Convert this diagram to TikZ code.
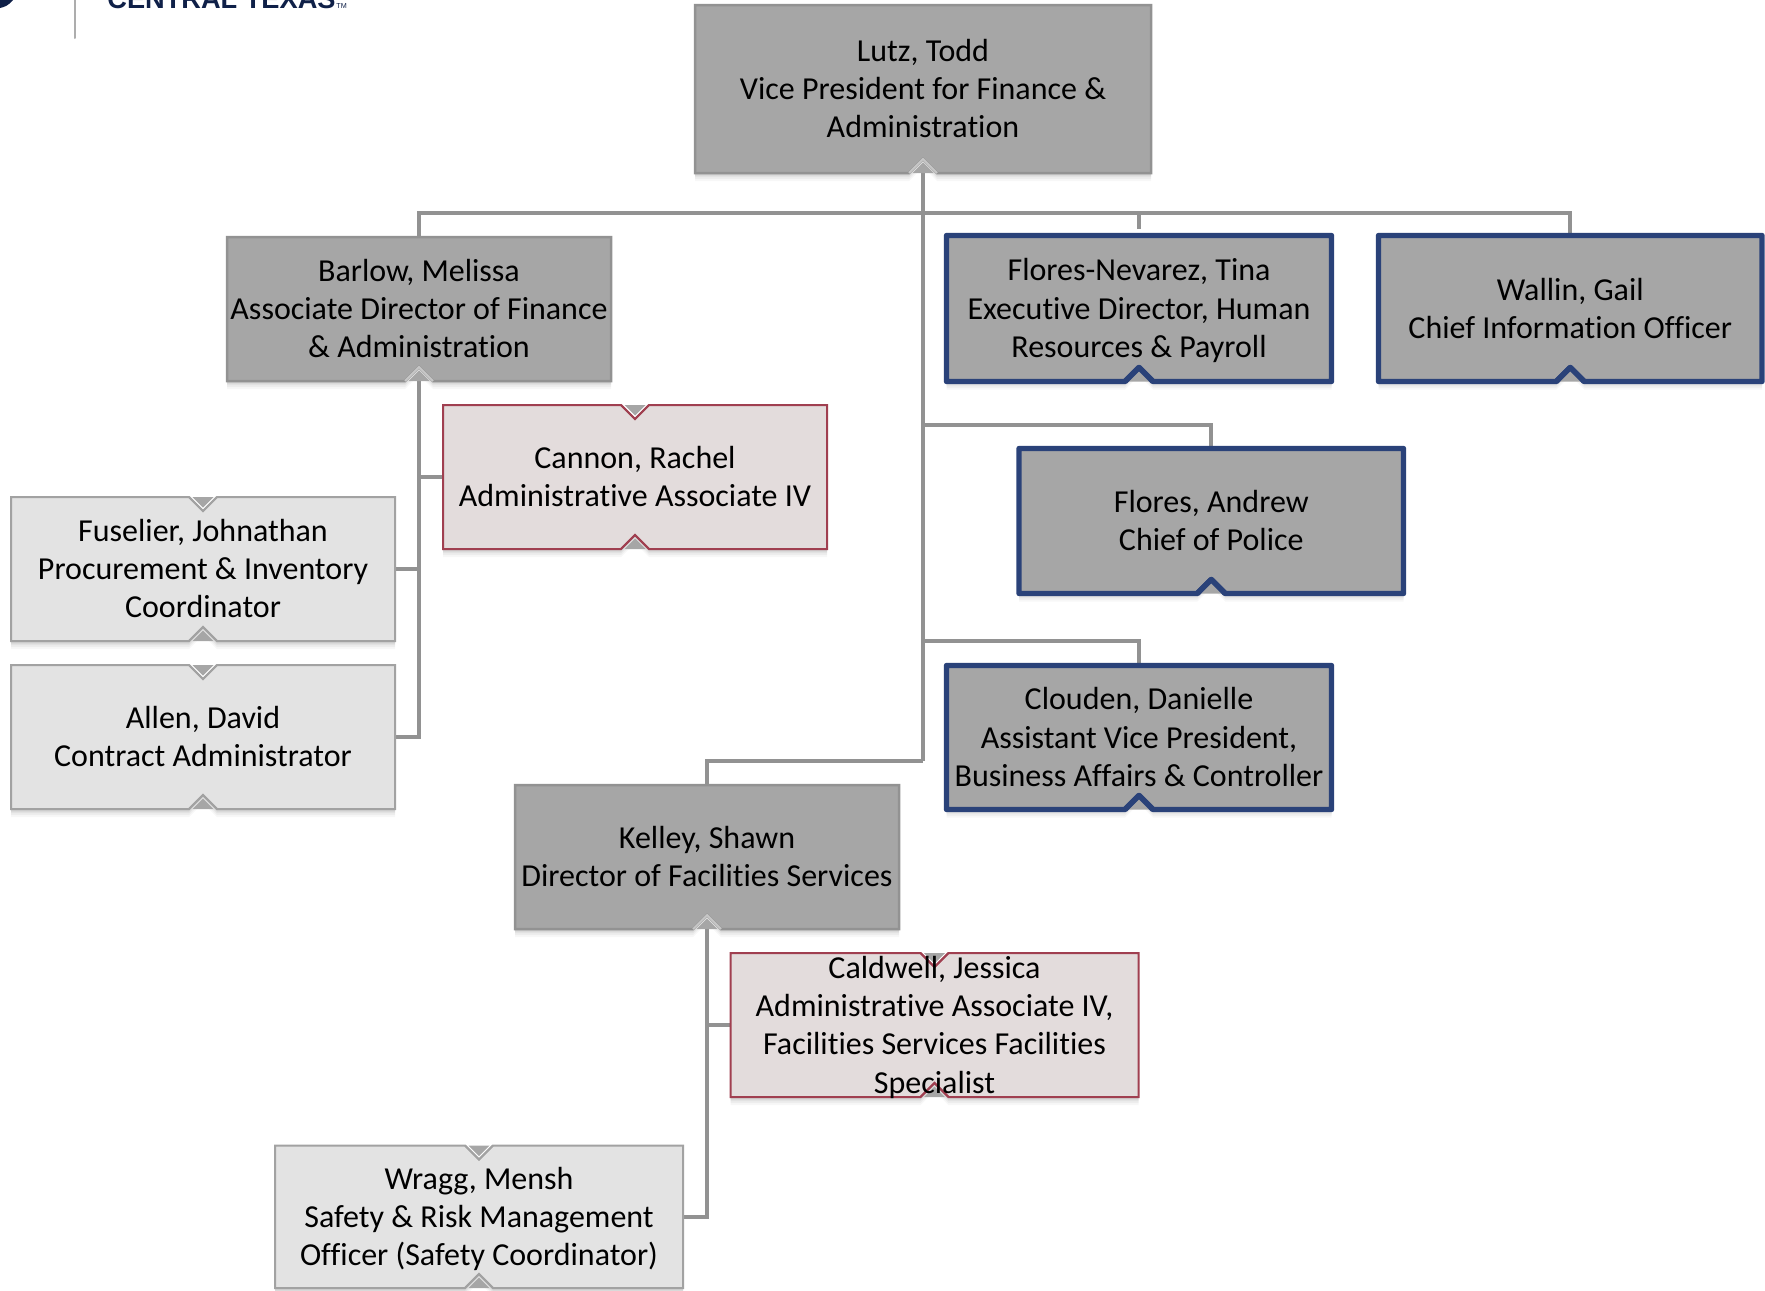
\documentclass[tikz,border=0pt]{standalone}
\usepackage{fontspec}
\setmainfont[Ligatures=NoCommon]{Carlito}
\newfontfamily\logofont{Liberation Sans}
\usetikzlibrary{shadows}
\pgfdeclarelayer{connectors}
\pgfsetlayers{connectors,main}
\definecolor{fillgrey}{HTML}{A6A6A6}
\definecolor{edgegrey}{HTML}{929292}
\definecolor{conngrey}{HTML}{929292}
\definecolor{litefill}{HTML}{E3E3E3}
\definecolor{liteedge}{HTML}{A2A2A2}
\definecolor{redfill}{HTML}{E3DCDC}
\definecolor{rededge}{HTML}{A03F50}
\definecolor{blueedge}{HTML}{2A4279}
\definecolor{navy}{HTML}{0F2048}
\tikzset{
  softshadow/.style={
    general shadow={shadow yshift=-.6pt,fill=black,fill opacity=.06},
    general shadow={shadow yshift=-1.3pt,fill=black,fill opacity=.06},
    general shadow={shadow yshift=-2.1pt,fill=black,fill opacity=.05},
    general shadow={shadow yshift=-3pt,fill=black,fill opacity=.04},
    general shadow={shadow yshift=-4pt,fill=black,fill opacity=.03}},
  darkbox/.style={softshadow,fill=fillgrey,draw=edgegrey,line width=1.25pt},
  darkchev/.style={draw=black!22,line width=.9pt},
  bluebox/.style={softshadow,fill=fillgrey,draw=blueedge,line width=2.7pt,line join=round},
  bluechev/.style={draw=blueedge,line width=2.7pt,line join=round},
  litebox/.style={softshadow,fill=litefill,draw=liteedge,line width=1pt},
  litechev/.style={draw=liteedge,line width=1pt},
  redbox/.style={softshadow,fill=redfill,draw=rededge,line width=1pt},
  redchev/.style={draw=rededge,line width=1pt},
  orgtext/.style={align=center,inner sep=0pt,outer sep=0pt,text=black,
    font=\fontsize{16}{19.15}\selectfont},
  conn/.style={draw=conngrey,line width=2pt}
}
\newcommand\notched[7]{\orgboxx{1}{#1}{#2}{#3}{#4}{#5}{#6}{#7}}
\newcommand\plain[7]{\orgboxx{0}{#1}{#2}{#3}{#4}{#5}{#6}{#7}}
% {top notch 0/1}{name}{x0}{y0}{x1}{y1}{kind}{text}
\newcommand\orgboxx[8]{%
  \pgfmathsetmacro\cxx{(#3+#5)/2}%
  \ifnum#1=1
    \path[#7box] (#3,#4) -- (\cxx-14,#4) -- (\cxx,#4+14) -- (\cxx+14,#4) -- (#5,#4) -- (#5,#6)
      -- (\cxx+14,#6) -- (\cxx,#6-14) -- (\cxx-14,#6) -- (#3,#6) -- cycle;
    \fill[fillgrey] (\cxx-10.5,#4) -- (\cxx,#4+10.5) -- (\cxx+10.5,#4) -- cycle;
    \draw[#7chev] (\cxx-14,#4) -- (\cxx,#4+14) -- (\cxx+14,#4);
  \else
    \path[#7box] (#3,#4) -- (#5,#4) -- (#5,#6)
      -- (\cxx+14,#6) -- (\cxx,#6-14) -- (\cxx-14,#6) -- (#3,#6) -- cycle;
  \fi
  \fill[fillgrey] (\cxx-10.5,#6) -- (\cxx,#6-10.5) -- (\cxx+10.5,#6) -- cycle;
  \draw[#7chev] (\cxx-14,#6) -- (\cxx,#6-14) -- (\cxx+14,#6);
  \node[orgtext,minimum width={(#5-#3)*0.5pt},minimum height={(#6-#4)*0.5pt}] (#2) at (\cxx,{(#4+#6)/2}) {\rule{0pt}{14.9pt}#8\rule[-4.24pt]{0pt}{4.24pt}};
}
\begin{document}
\begin{tikzpicture}[x=0.5pt,y=-0.5pt]
\useasboundingbox (0,0) rectangle (1765,1290);
% logo fragment
\fill[navy] (0,0) -- (13,0) .. controls (9,5) and (5,7) .. (0,8) -- cycle;
\draw[draw=black!32,line width=1pt,line cap=round] (75,0) -- (75,38);
\node[anchor=base west,inner sep=0pt,text=navy,font=\logofont\bfseries\fontsize{13.6}{16}\selectfont] (logotext) at (107,8.5) {CENTRAL TEXAS};
\node[anchor=base west,inner sep=0pt,text=navy,font=\logofont\fontsize{3.6}{4}\selectfont] (logotm) at (336,8.5) {TM};
% boxes
\plain{lutz}{695}{5}{1151}{173}{dark}{Lutz, Todd\\Vice President for Finance \&\\Administration}
\plain{barlow}{227}{237}{611}{381}{dark}{Barlow, Melissa\\Associate Director of Finance\\\& Administration}
\plain{kelley}{515}{785}{899}{929}{dark}{Kelley, Shawn\\Director of Facilities Services}
\plain{fn}{946.5}{235.5}{1331.5}{381.5}{blue}{Flores-Nevarez, Tina\\Executive Director, Human\\Resources \& Payroll}
\plain{wallin}{1378.5}{235.5}{1762}{381.5}{blue}{Wallin, Gail\\Chief Information Officer}
\plain{flores}{1019}{448.5}{1403.5}{593.5}{blue}{Flores, Andrew\\Chief of Police}
\plain{clouden}{946.5}{665.5}{1331.5}{809.5}{blue}{Clouden, Danielle\\Assistant Vice President,\\Business Affairs \& Controller}
\notched{cannon}{443}{405}{827}{549}{red}{Cannon, Rachel\\Administrative Associate IV}
\notched{caldwell}{730.5}{953}{1138.5}{1097}{red}{Caldwell, Jessica\\Administrative Associate IV,\\Facilities Services Facilities\\Specialist}
\notched{fuselier}{11}{497}{395}{641}{lite}{Fuselier, Johnathan\\Procurement \& Inventory\\Coordinator}
\notched{allen}{11}{665}{395}{809}{lite}{Allen, David\\Contract Administrator}
\notched{wragg}{275}{1145.5}{683}{1288}{lite}{Wragg, Mensh\\Safety \& Risk Management\\Officer (Safety Coordinator)}
% junctions
\coordinate (bus) at (923,212.7);
\coordinate (j1) at (923,425);
\coordinate (j2) at (923,640.5);
\coordinate (j3) at (923,761);
\coordinate (fnstub) at (1139,229);
% connectors
\begin{pgfonlayer}{connectors}
\draw[conn] (lutz.south) -- (j3);
\draw[conn] (barlow.north) |- (bus);
\draw[conn] (wallin.north) |- (bus);
\draw[conn] (fnstub) -- (fnstub |- bus);
\draw[conn] (flores.north) |- (j1);
\draw[conn] (clouden.north) |- (j2);
\draw[conn] (kelley.north) |- (j3);
\draw[conn] (cannon.west) -| (barlow.south);
\draw[conn] (fuselier.east) -| (barlow.south);
\draw[conn] (allen.east) -| (barlow.south);
\draw[conn] (caldwell.west) -| (kelley.south);
\draw[conn] (wragg.east) -| (kelley.south);
\end{pgfonlayer}
\end{tikzpicture}
\end{document}
